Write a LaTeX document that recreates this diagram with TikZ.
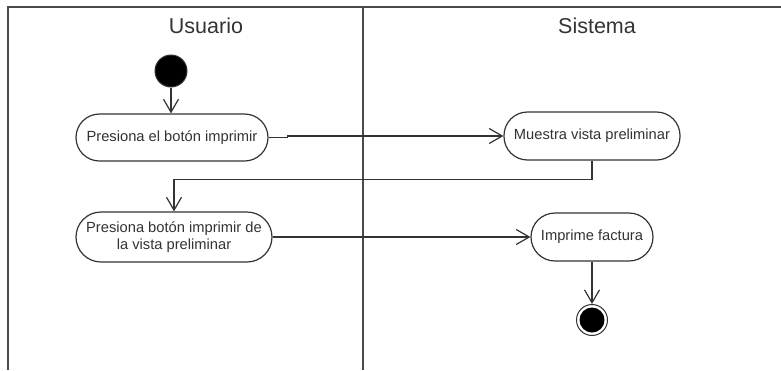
\documentclass[tikz,border=0pt]{standalone}
\usepackage{fontspec}
\setmainfont{Liberation Sans}
\usetikzlibrary{arrows.meta}
\definecolor{ink}{HTML}{333333}
\definecolor{frame}{HTML}{4A4A4A}
\begin{document}
\begin{tikzpicture}[x=1pt,y=-1pt,
  act/.style={draw=ink, line width=1.2pt, fill=white, rounded corners=23.5pt, inner sep=0pt,
    text=ink, font=\fontsize{14.7}{17.7}\selectfont, align=center},
  flow/.style={draw=ink, line width=1.2pt, -{Straight Barb[length=13pt,width=15pt,line width=1.2pt]}},
  lane/.style={draw=frame, line width=1.6pt},
  title/.style={text=ink, font=\fontsize{21.5}{24}\selectfont, inner sep=0pt}]
\useasboundingbox (0,0) rectangle (781,370);
% swimlanes
\draw[lane] (8,370) -- (8,7) -- (781,7);
\draw[lane] (363,7) -- (363,370);
\node[title] (tu) at (206,26) {Usuario};
\node[title] (ts) at (597,26) {Sistema};
% nodes
\node[circle, fill=black, draw=ink, line width=1pt, minimum size=32pt, inner sep=0pt] (start) at (171,71) {};
\node[act, minimum width=192pt, minimum height=47pt] (n1) at (172,137.5) {Presiona el botón imprimir};
\node[act, minimum width=176pt, minimum height=48pt] (n2) at (592,136) {Muestra vista preliminar};
\node[act, minimum width=196pt, minimum height=50pt, rounded corners=25pt] (n3) at (174,237) {Presiona botón imprimir de\\la vista preliminar};
\node[act, minimum width=122pt, minimum height=48pt, rounded corners=24pt] (n4) at (592,237) {Imprime factura};
\node[circle, draw=ink, line width=1pt, minimum size=31pt, inner sep=0pt] (end) at (592,320) {};
\node[circle, fill=black, minimum size=25pt, inner sep=0pt] (endin) at (end.center) {};
% connectors
\draw[flow] (start.south) -- (start.south |- n1.north);
\draw[flow] (n1.east) -- ++(19,0) |- (n2.west);
\draw[flow] (n2.south) -- ++(0,19) -| (n3.north);
\draw[flow] (n3.east) -- (n4.west);
\draw[flow] (n4.south) -- (end.north);
\end{tikzpicture}
\end{document}
